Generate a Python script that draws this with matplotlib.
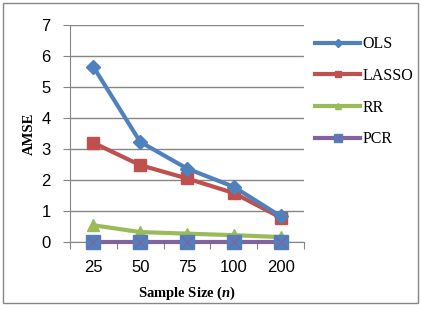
import numpy as np
import matplotlib
matplotlib.use("Agg")
import matplotlib.pyplot as plt
from matplotlib.patches import Rectangle
from matplotlib.lines import Line2D
from matplotlib.legend_handler import HandlerTuple

# data
sizes = ["25", "50", "75", "100", "200"]
ols = [5.65, 3.23, 2.37, 1.78, 0.83]
lasso = [3.20, 2.48, 2.05, 1.58, 0.79]
rr = [0.54, 0.32, 0.27, 0.22, 0.16]
pcr = [0.01, 0.01, 0.01, 0.01, 0.01]

plt.rcParams["mathtext.fontset"] = "custom"
plt.rcParams["mathtext.it"] = "Liberation Serif:italic:bold"

fig = plt.figure(figsize=(4.21, 3.09), dpi=100)
ax = fig.add_axes([70 / 421, 1 - 242 / 309, 234 / 421, 217 / 309])

x = np.arange(len(sizes))
l1, = ax.plot(x, ols, color="#4F81BD", lw=3, marker="D", ms=7, label="OLS", zorder=5)
l2, = ax.plot(x, lasso, color="#C0504D", lw=3, marker="s", ms=9, label="LASSO", zorder=4)
l3, = ax.plot(x, rr, color="#9BBB59", lw=3, marker="^", ms=9, label="RR", zorder=3)
ax.plot(x, pcr, color="#8064A2", lw=3, zorder=3, clip_on=False)
ax.plot(x, pcr, ls="none", marker="s", ms=10, color="#4F81BD", zorder=6, clip_on=False)
ax.plot(x, pcr, ls="none", marker="x", ms=8, mew=1, color="#8064A2", zorder=7, clip_on=False)

ax.set_xlim(-0.5, 4.5)
ax.set_ylim(0, 7)
ax.set_yticks(range(8))
ax.yaxis.grid(True, color="#868686", lw=1)
ax.set_axisbelow(True)
for s in ["top", "right"]:
    ax.spines[s].set_visible(False)
for s in ["left", "bottom"]:
    ax.spines[s].set_color("#868686")

ax.set_xticks(np.arange(-0.5, 5, 1))
ax.set_xticklabels([])
ax.set_xticks(x, minor=True)
ax.set_xticklabels(sizes, minor=True, fontsize=12, family="Liberation Sans")
ax.tick_params(axis="x", which="major", length=5, color="#868686")
ax.tick_params(axis="x", which="minor", length=0, pad=13)
ax.tick_params(axis="y", length=5, color="#868686", labelsize=12, pad=9)
for t in ax.get_yticklabels():
    t.set_family("Liberation Sans")

ax.set_xlabel("Sample Size ($n$)", family="Liberation Serif", weight="bold", fontsize=10.5, labelpad=7)
ax.set_ylabel("AMSE", family="Liberation Serif", weight="bold", fontsize=10.5, labelpad=4)

# legend proxies with small markers
h1 = Line2D([], [], color="#4F81BD", lw=3, marker="D", ms=4)
h2 = Line2D([], [], color="#C0504D", lw=3, marker="s", ms=5)
h3 = Line2D([], [], color="#9BBB59", lw=3, marker="^", ms=5)
h4 = (Line2D([], [], color="#8064A2", lw=3),
      Line2D([], [], ls="none", marker="s", ms=5.5, color="#4F81BD"),
      Line2D([], [], ls="none", marker="x", ms=4.5, mew=0.8, color="#8064A2"))

leg = fig.legend([h1, h2, h3, h4], ["OLS", "LASSO", "RR", "PCR"],
                 handler_map={tuple: HandlerTuple(ndivide=1)},
                 loc="upper left", bbox_to_anchor=(301 / 421, 1 - 22 / 309),
                 frameon=False, prop={"family": "Liberation Serif", "size": 11.5},
                 handlelength=2.8, labelspacing=0.98, handletextpad=0.15)

fig.add_artist(Rectangle((3 / 421, 6 / 309), 415 / 421, 300 / 309, transform=fig.transFigure,
                         fill=False, edgecolor="#868686", lw=1))

fig.savefig("out.png", dpi=100)
